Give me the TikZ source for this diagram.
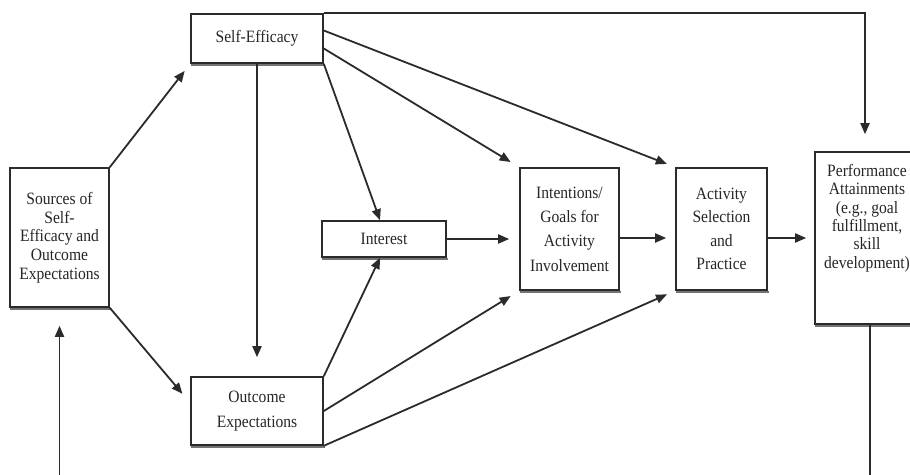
\documentclass[tikz,border=0pt]{standalone}
\usepackage{fontspec}
\setmainfont{Liberation Serif}[FakeStretch=0.9]
\usetikzlibrary{arrows.meta,calc}
\definecolor{lncol}{HTML}{2B2B2B}
\begin{document}
\begin{tikzpicture}[x=1pt,y=-1pt,
  box/.style={draw=lncol, line width=1.6pt, fill=white, inner sep=0pt, align=center,
    font=\fontsize{17.3}{18.7}\selectfont, text=black!85},
  txt/.style={inner sep=0pt, align=center, font=\fontsize{17.3}{18.3}\selectfont, text=black!85},
  arr/.style={draw=lncol, line width=1.8pt, -{Triangle[length=11pt,width=9pt]}},
  plain/.style={draw=lncol, line width=1.8pt},
  shadowline/.style={draw=black!55, line width=2.2pt}
]
\clip (0,0) rectangle (910,474);
\fill[white] (0,0) rectangle (910,474);

% boxes
\node[box, minimum width=99pt, minimum height=139pt] (src) at (59.5,237.5)
  {Sources of\\Self-\\Efficacy and\\Outcome\\Expectations};
\node[box, minimum width=132pt, minimum height=49pt] (se) at (257,38.5) {Self-Efficacy};
\node[box, minimum width=132pt, minimum height=68pt, font=\fontsize{17.3}{25}\selectfont] (oe) at (257,411)
  {Outcome\\Expectations};
\node[box, minimum width=124pt, minimum height=36pt] (int) at (384,239) {Interest};
\node[box, minimum width=99pt, minimum height=122pt, font=\fontsize{17.3}{24.3}\selectfont] (ig) at (569.5,229)
  {Intentions/\\Goals for\\Activity\\Involvement};
\node[box, minimum width=91pt, minimum height=122pt, font=\fontsize{17.3}{23.5}\selectfont] (act) at (721.5,229)
  {Activity\\Selection\\and\\Practice};
\node[box, minimum width=97pt, minimum height=172pt] (perf) at (863.5,238) {};
\node[txt] (perftxt) at (867,218)
  {Performance\\Attainments\\(e.g., goal\\fulfillment,\\skill\\development)};

% shadows (thicker grey lower edge)
\foreach \n in {src,se,oe,int,ig,act,perf}
  \draw[shadowline] ([shift={(0.8,1.2)}]\n.south west) -- ([shift={(0.8,1.2)}]\n.south east);

% connectors
\draw[arr, shorten >=9pt] (src.north east) -- (se.south west);
\draw[arr, shorten >=12pt] (src.south east) -- ([yshift=8pt]oe.west);
\draw[arr, shorten >=19pt] (se.south) -- (oe.north);
\draw[arr] (se.south east) -- ([xshift=-4pt]int.north);
\draw[arr, shorten >=10pt] ([yshift=-10pt]se.east) -- (ig.north west);
\draw[arr, shorten >=9pt] ([yshift=8pt]se.east) -- (act.north west);
\draw[arr] (oe.north east) -- ([xshift=-4pt]int.south);
\draw[arr, shorten >=10pt] (oe.east) -- (ig.south west);
\draw[arr, shorten >=9pt] (oe.south east) -- (act.south west);
\draw[arr, shorten >=10pt] (int.east) -- (int.east -| ig.west);
\draw[arr, shorten >=9pt] ([yshift=-9pt]ig.east) -- ([yshift=-9pt]act.west);
\draw[arr, shorten >=8pt] ([yshift=-9pt]act.east) -- (perf.west);
\draw[arr, shorten >=17pt] (se.north east) -| ([xshift=1.5pt]perf.north);

% feedback loop (runs off the bottom edge)
\coordinate (fbL) at (59.5,490);
\coordinate (fbR) at (870,490);
\draw[arr, shorten >=18pt] (fbL) -- (src.south);
\draw[plain] ([xshift=6.5pt]perf.south) -- (fbR);
\end{tikzpicture}
\end{document}
